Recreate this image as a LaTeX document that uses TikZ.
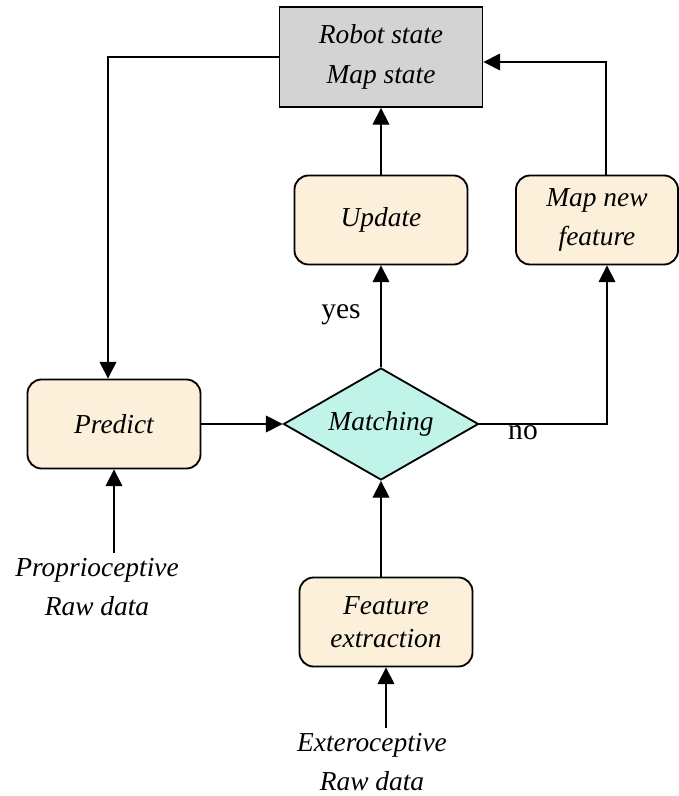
\documentclass[tikz,border=0pt]{standalone}
\usepackage{fontspec}
\setmainfont{Liberation Serif}
\usetikzlibrary{shapes.geometric,arrows.meta,positioning}
\definecolor{boxpeach}{RGB}{253,240,218}
\definecolor{matchcyan}{RGB}{192,244,232}
\definecolor{stategray}{RGB}{211,211,211}
\tikzstyle{soft box}=[
        draw = black,
        line width = 1.3pt,
        fill = boxpeach,
        rounded corners = 0.35cm,
        minimum width = 4.325cm,
        minimum height = 2.225cm,
        align = center,
        font = \fontsize{19.5}{28}\selectfont\itshape
    ]
\tikzstyle{state box}=[
        draw = black,
        line width = 1.3pt,
        fill = stategray,
        minimum width = 5.075cm,
        minimum height = 2.5cm,
        align = center,
        font = \fontsize{19.5}{28}\selectfont\itshape
    ]

\begin{document}
\begin{tikzpicture}[line width=1pt, >={Triangle[length=0.42cm,width=0.42cm]},
        match/.style = {draw, diamond, aspect=1.75, inner sep=0pt, line width=1.3pt,
            fill=matchcyan, minimum width=4.875cm, minimum height=2.8cm,
            font=\fontsize{19.5}{28}\selectfont\itshape},
        raw text/.style = {align=center, font=\fontsize{19.5}{28}\selectfont\itshape},
        answer/.style = {font=\fontsize{21}{25}\selectfont}]
        \useasboundingbox (-9.525,-9.3) rectangle (7.425,10.6);

        \node[match] (M) {Matching};
        \node[soft box] (U) [above of = M, node distance=5.1cm] {Update};
        \node[state box] (R) [above of = U, node distance=4.075cm] {Robot state\\Map state};
        \node[soft box, minimum width=4.05cm] (N) [right of = U, node distance=5.4cm] {Map new\\feature};
        \node[soft box] (P) [left of = M, node distance=6.675cm] {Predict};
        \node[soft box] (F) [below of = M, node distance=4.95cm, xshift=0.125cm] {Feature\\[-4.5pt]extraction};
        \node[raw text] (E) [below of = F, node distance=3.5cm, xshift=-0.35cm] {Exteroceptive\\Raw data};
        \node[raw text] (Q) [below of = P, node distance=4.075cm, xshift=-0.425cm] {Proprioceptive\\Raw data};
        \node[answer] (yes) at (-1.0,2.725) {yes};
        \node[answer] (no) at (3.55,-0.225) {no};

        \draw[->] (R.west) -| ([xshift=-0.15cm]P.north);
        \draw[->] (U.north) -- (U.north |- R.south);
        \draw[->] (M.north) -- (M.north |- U.south);
        \draw[->] (P.east |- M) -- (M.west);
        \draw[->] (M.east) -| ([xshift=0.25cm]N.south);
        \draw[->] ([xshift=0.225cm]N.north) |- ([yshift=-0.125cm]R.east);
        \draw[->] (M.south |- F.north) -- (M.south);
        \draw[->] (E.north -| F.south) -- (F.south);
        \draw[->] (Q.north -| P.south) -- (P.south);
    \end{tikzpicture}
\end{document}
